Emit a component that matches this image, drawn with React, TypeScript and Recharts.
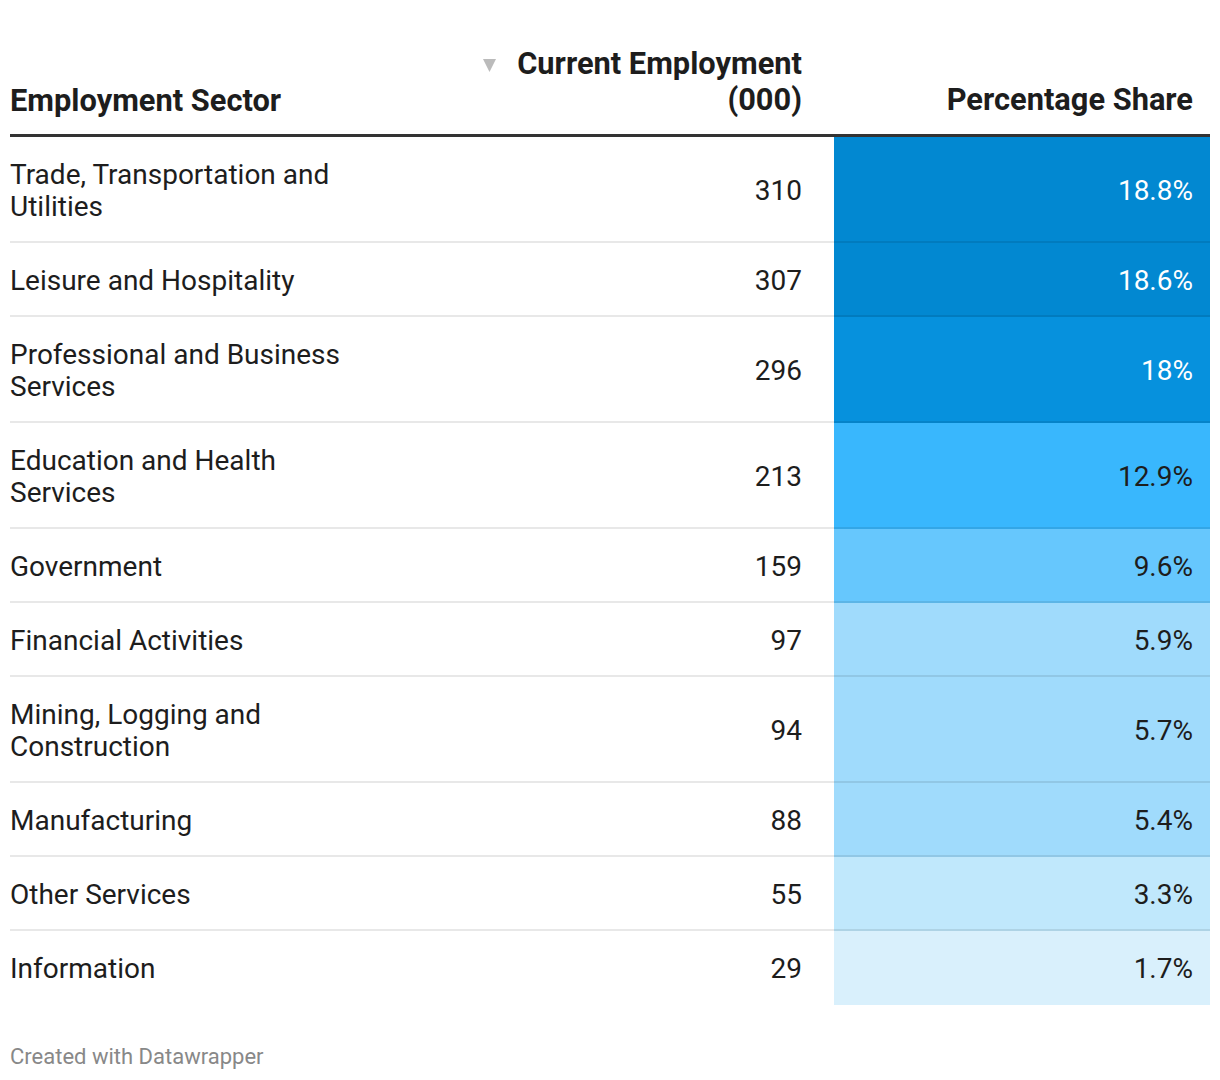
import React from "react";
import { BarChart, Bar, XAxis, YAxis } from "recharts";

// table content
const sectors = [
  "Trade, Transportation and\nUtilities",
  "Leisure and Hospitality",
  "Professional and Business\nServices",
  "Education and Health\nServices",
  "Government",
  "Financial Activities",
  "Mining, Logging and\nConstruction",
  "Manufacturing",
  "Other Services",
  "Information",
];
const employment = [310, 307, 296, 213, 159, 97, 94, 88, 55, 29];
const share = [18.8, 18.6, 18, 12.9, 9.6, 5.9, 5.7, 5.4, 3.3, 1.7];

const headerSector = "Employment Sector";
const headerEmployment = ["Current Employment", "(000)"];
const headerShare = "Percentage Share";
const footer = "Created with Datawrapper";

const FONT = "Roboto, sans-serif";
const BODY_SIZE = 28;
const HEAD_SIZE = 30.8;
const LINE_H = 32;
const TABLE_LEFT = 10;
const TABLE_RIGHT = 1210;
const EMP_RIGHT = 802;
const SHARE_LEFT = 834;
const HEAD_BOTTOM = 137;

function shareColor(v: number) {
  if (v >= 18.5) return "#0288d1";
  if (v >= 18) return "#0691dd";
  if (v >= 12) return "#39b7fd";
  if (v >= 9) return "#66c7fd";
  if (v >= 5) return "#a0dbfc";
  if (v >= 3) return "#c0e8fc";
  return "#d9f0fc";
}

const lineCount = (s: string) => s.split("\n").length;
const rowHeight = (s: string) => 42 + LINE_H * lineCount(s);

const rowKeys = sectors.map((_, i) => `r${i}`);
const tableData = [
  Object.fromEntries([["col", "share"], ...sectors.map((s, i) => [rowKeys[i], rowHeight(s)])]),
];
const totalHeight = sectors.reduce((a, s) => a + rowHeight(s), 0);

const makeRow = (i: number) => (props: any) => {
  const { x, width } = props;
  // reversed axis gives negative heights, so normalise
  const top = Math.min(props.y, props.y + props.height);
  const h = Math.abs(props.height);
  const lines = sectors[i].split("\n");
  const cy = top + h / 2;
  const base = BODY_SIZE * 0.355;
  const dark = share[i] >= 18;
  return (
    <g>
      <rect x={x} y={top} width={width} height={h} fill={shareColor(share[i])} />
      {i < sectors.length - 1 && (
        <line
          x1={TABLE_LEFT}
          x2={x + width}
          y1={top + h - 1}
          y2={top + h - 1}
          stroke="rgba(0,0,0,0.09)"
          strokeWidth={2}
        />
      )}
      {lines.map((l, k) => (
        <text
          key={k}
          x={TABLE_LEFT}
          y={cy + (k - (lines.length - 1) / 2) * LINE_H + base}
          fontFamily={FONT}
          fontSize={BODY_SIZE}
          fill="#1d1d1d"
        >
          {l}
        </text>
      ))}
      <text x={EMP_RIGHT} y={cy + base} textAnchor="end" fontFamily={FONT} fontSize={BODY_SIZE} fill="#1d1d1d">
        {employment[i]}
      </text>
      <text
        x={x + width - 17}
        y={cy + base}
        textAnchor="end"
        fontFamily={FONT}
        fontSize={BODY_SIZE}
        fill={dark ? "#ffffff" : "#1d1d1d"}
      >
        {`${share[i]}%`}
      </text>
    </g>
  );
};

export default function App() {
  return (
    <div style={{ position: "absolute", left: 0, top: 0, width: 1220, height: 1080, background: "#fff" }}>
      <BarChart
        width={1220}
        height={1080}
        data={tableData}
        margin={{ top: HEAD_BOTTOM, right: 1220 - TABLE_RIGHT, bottom: 1080 - HEAD_BOTTOM - totalHeight, left: SHARE_LEFT }}
        barCategoryGap={0}
        barGap={0}
      >
        <XAxis dataKey="col" type="category" hide />
        <YAxis type="number" domain={[0, totalHeight]} reversed hide />
        {rowKeys.map((k, i) => (
          <Bar key={k} dataKey={k} stackId="rows" isAnimationActive={false} shape={makeRow(i)} />
        ))}
      </BarChart>
      <svg width={1220} height={1080} style={{ position: "absolute", left: 0, top: 0, pointerEvents: "none" }}>
        <text x={TABLE_LEFT} y={111} fontFamily={FONT} fontWeight={700} fontSize={HEAD_SIZE} fill="#1d1d1d">
          {headerSector}
        </text>
        <polygon points="483,59 496,59 489.5,72" fill="#bbbbbb" />
        <text x={EMP_RIGHT} y={74} textAnchor="end" fontFamily={FONT} fontWeight={700} fontSize={HEAD_SIZE} fill="#1d1d1d">
          {headerEmployment[0]}
        </text>
        <text x={EMP_RIGHT} y={110} textAnchor="end" fontFamily={FONT} fontWeight={700} fontSize={HEAD_SIZE} fill="#1d1d1d">
          {headerEmployment[1]}
        </text>
        <text x={TABLE_RIGHT - 17} y={110} textAnchor="end" fontFamily={FONT} fontWeight={700} fontSize={HEAD_SIZE} fill="#1d1d1d">
          {headerShare}
        </text>
        <rect x={TABLE_LEFT} y={134} width={TABLE_RIGHT - TABLE_LEFT} height={3} fill="#333333" />
        <text x={TABLE_LEFT} y={1064} fontFamily={FONT} fontSize={22} fill="#888888">
          {footer}
        </text>
      </svg>
    </div>
  );
}
